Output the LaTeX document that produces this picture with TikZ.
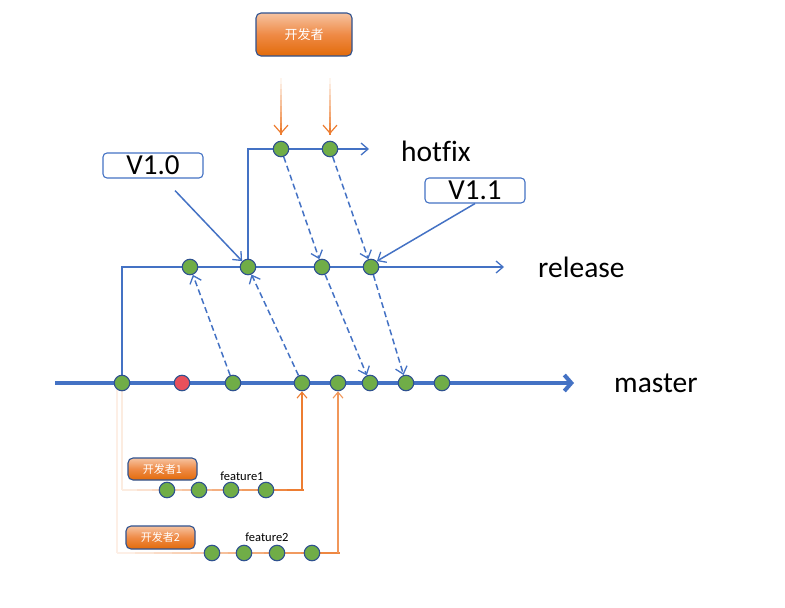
\documentclass[tikz,border=0pt]{standalone}
\usepackage{fontspec}
\setmainfont{Carlito}[Ligatures=NoCommon]
\newfontfamily\cjk{Noto Sans CJK SC}
\usetikzlibrary{arrows.meta,calc,backgrounds}
\definecolor{bl}{HTML}{4472C4}
\definecolor{bd}{HTML}{2F528F}
\definecolor{gr}{HTML}{70AD47}
\definecolor{rd}{HTML}{E8505B}
\definecolor{og}{HTML}{ED7D31}
\definecolor{ogtop}{HTML}{F6C3A0}
\definecolor{ogbot}{HTML}{E26B0A}
\begin{document}
\begin{tikzpicture}[x=1pt,y=-1pt,
  commit/.style={circle,inner sep=0pt,minimum width=15.5pt,draw=bd,line width=1.1pt,fill=gr},
  hotcommit/.style={commit,fill=rd},
  devbox/.style={rounded corners=5pt,draw=bd,line width=1.1pt,top color=ogtop,bottom color=ogbot,middle color=og!90,text=white,inner sep=0pt},
  verbox/.style={rounded corners=4pt,draw=bl,line width=1.1pt,fill=white,inner sep=0pt,minimum width=100pt,minimum height=25pt,font=\fontsize{29}{31}\selectfont},
  branch/.style={draw=bl,line width=1.5pt},
  openarrow/.style={-{Straight Barb[length=7pt,width=12pt,line width=1.3pt]}},
  merge/.style={draw=bl,line width=1.5pt,dashed,dash pattern=on 6pt off 3.5pt,openarrow},
  mainline/.style={draw=bl,line width=4pt,-{Straight Barb[length=7pt,width=16pt,line width=4pt]}},
  lbl/.style={anchor=west,inner sep=0pt,font=\fontsize{29.5}{31}\selectfont},
  flbl/.style={inner sep=0pt,font=\fontsize{12.5}{14}\selectfont},
]
\useasboundingbox (0,0) rectangle (785,608);

% master commits
\node[commit] (m1) at (122,383) {};
\node[hotcommit] (m2) at (182,383) {};
\node[commit] (m3) at (233,383) {};
\node[commit] (m4) at (302,383) {};
\node[commit] (m5) at (338,383) {};
\node[commit] (m6) at (370,383) {};
\node[commit] (m7) at (406,383) {};
\node[commit] (m8) at (442,383) {};
% release commits
\node[commit] (r1) at (190,267) {};
\node[commit] (r2) at (248,267) {};
\node[commit] (r3) at (322,267) {};
\node[commit] (r4) at (371,267) {};
% hotfix commits
\node[commit] (h1) at (281,149) {};
\node[commit] (h2) at (330,149) {};
% feature commits
\node[commit] (fa1) at (167,490) {};
\node[commit] (fa2) at (199,490) {};
\node[commit] (fa3) at (231,490) {};
\node[commit] (fa4) at (266,490) {};
\node[commit] (fb1) at (212,553) {};
\node[commit] (fb2) at (244,553) {};
\node[commit] (fb3) at (277,553) {};
\node[commit] (fb4) at (312,553) {};

% labels
\node[lbl] (lh) at (401,151) {hotfix};
\node[lbl] (lr) at (538,267) {release};
\node[lbl] (lm) at (614,383) {master};
\node[verbox] (v10) at (153,165.5) {V1.0};
\node[verbox] (v11) at (475,190.5) {V1.1};
\node[devbox,minimum width=96pt,minimum height=43pt,font=\cjk\fontsize{13}{15}\selectfont] (dev) at (304,34.5) {开发者};
\node[devbox,minimum width=69pt,minimum height=22pt,font=\cjk\fontsize{11}{13}\selectfont] (dev1) at (162.5,469) {开发者1};
\node[devbox,minimum width=69pt,minimum height=23pt,font=\cjk\fontsize{11}{13}\selectfont] (dev2) at (160.5,537.5) {开发者2};
\node[flbl] (lf1) at (242,476) {feature1};
\node[flbl] (lf2) at (267,537) {feature2};

% coordinates
\coordinate (ms) at (55,383);
\coordinate (me) at (574,383);
\coordinate (re) at (504,267);
\coordinate (he) at (369,149);
\coordinate (d1) at (281,78);
\coordinate (d2) at (330,78);
\coordinate (d1e) at (281,134);
\coordinate (d2e) at (330,134);
\coordinate (fac) at (122,490);
\coordinate (fae) at (302,490);
\coordinate (fbs) at (117,383);
\coordinate (fbc) at (117,553);
\coordinate (fbe) at (338,553);

\begin{scope}[on background layer]
  \draw[mainline] (ms) -- (me);
  \draw[branch,openarrow] (m1.center) |- (re);
  \draw[branch,openarrow] (r2.center) |- (he);
  % feature 1 line
  \draw[line width=1.2pt,og!15] (m1.center) -- (fac);
  \foreach \i in {0,...,11} {
    \pgfmathsetmacro{\pa}{\i/12}
    \pgfmathsetmacro{\pb}{(\i+1)/12+0.01}
    \pgfmathsetmacro{\pc}{15+\i*7.7}
    \draw[line width=1.2pt,og!\pc] ($(fac)!\pa!(fae)$) -- ($(fac)!\pb!(fae)$);
  }
  % feature 2 line
  \draw[line width=1.2pt,og!12] (fbs) -- (fbc);
  \foreach \i in {0,...,11} {
    \pgfmathsetmacro{\pa}{\i/12}
    \pgfmathsetmacro{\pb}{(\i+1)/12+0.01}
    \pgfmathsetmacro{\pc}{12+\i*7.3}
    \draw[line width=1.2pt,og!\pc] ($(fbc)!\pa!(fbe)$) -- ($(fbc)!\pb!(fbe)$);
  }
\end{scope}

% feature merges
\draw[line width=1.2pt,og,-{Straight Barb[length=6pt,width=10pt,line width=1.1pt]}] (fae) -- (m4);
\draw[line width=1.2pt,og!80,-{Straight Barb[length=6pt,width=10pt,line width=1.1pt]}] (fbe) -- (m5);

% developer arrows (gradient)
\foreach \s/\e in {d1/d1e,d2/d2e} {
  \foreach \i in {0,...,9} {
    \pgfmathsetmacro{\pa}{\i/10}
    \pgfmathsetmacro{\pb}{(\i+1)/10+0.01}
    \pgfmathsetmacro{\pc}{8+\i*10}
    \draw[line width=1.2pt,og!\pc] ($(\s)!\pa!(\e)$) -- ($(\s)!\pb!(\e)$);
  }
  \draw[line width=1.2pt,og,-{Straight Barb[length=8pt,width=14pt,line width=1.2pt]}] ($(\s)!0.9!(\e)$) -- (\e);
}

% merges
\draw[merge] (m3) -- (r1);
\draw[merge] (m4) -- (r2);
\draw[merge] (h1) -- (r3);
\draw[merge] (h2) -- (r4);
\draw[merge] (r3) -- (m6);
\draw[merge] (r4) -- (m7);

% version pointers
\draw[branch,openarrow] ($(v10.south)+(22,12)$) -- (r2.north west);
\draw[branch,openarrow] (v11.south) -- (r4.north east);
\end{tikzpicture}
\end{document}
